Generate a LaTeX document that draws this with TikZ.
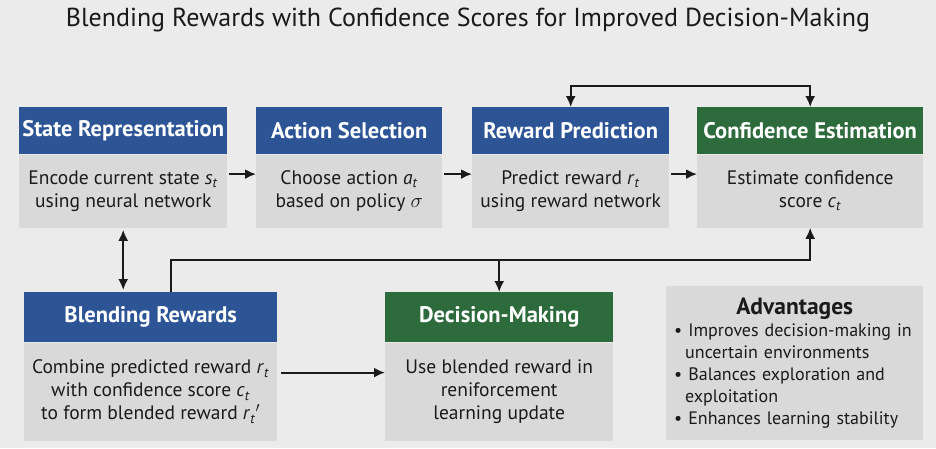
\documentclass[tikz,border=0pt]{standalone}
\usepackage{fontspec}
\setmainfont{PT Sans}
\usetikzlibrary{arrows.meta,positioning}
\definecolor{bgGray}{HTML}{EBEBEB}
\definecolor{headBlue}{HTML}{2D5596}
\definecolor{headGreen}{HTML}{2E6B3C}
\definecolor{bodyGray}{HTML}{D9D9D9}
\definecolor{inkDark}{HTML}{1A1A1A}
\newcommand{\symsub}[2]{\textit{#1}\textsubscript{\textit{#2}}}
\newcommand{\cont}{\hspace*{11pt}}

\begin{document}
\begin{tikzpicture}[x=1pt,y=-1pt,
  head/.style={fill=headBlue,text=white,font=\fontsize{22.5}{26}\selectfont\bfseries,
    minimum height=47pt,inner sep=0pt,anchor=north west},
  greenhead/.style={head,fill=headGreen},
  body/.style={fill=bodyGray,text=inkDark,font=\fontsize{19.5}{23}\selectfont,
    align=center,inner sep=0pt},
  link/.style={-{Latex[length=11pt,width=10pt]},line width=2pt,draw=inkDark},
  twoway/.style={link,{Latex[length=11pt,width=10pt]}-{Latex[length=11pt,width=10pt]}}]

  \fill[bgGray] (0,0) rectangle (936,448);
  \useasboundingbox (0,0) rectangle (936,448);

  \node at (468,20) [text=inkDark,font=\fontsize{26}{30}\selectfont] (title)
    {Blending Rewards with Confidence Scores for Improved Decision-Making};

  % top row
  \node at (19,107) [head,minimum width=208pt] (stateH) {State Representation};
  \node [body,below=0pt of stateH,minimum width=208pt,minimum height=73pt] (state)
    {Encode current state \symsub{s}{t}\\using neural network};

  \node at (256,107) [head,minimum width=186pt] (actionH) {Action Selection};
  \node [body,below=0pt of actionH,minimum width=186pt,minimum height=73pt] (action)
    {Choose action \symsub{a}{t}\\based on policy $\sigma$};

  \node at (472,107) [head,minimum width=197pt] (rewardH) {Reward Prediction};
  \node [body,below=0pt of rewardH,minimum width=197pt,minimum height=73pt] (reward)
    {Predict reward \symsub{r}{t}\\using reward network};

  \node at (697,107) [greenhead,minimum width=226pt] (confH) {Confidence Estimation};
  \node [body,below=0pt of confH,minimum width=226pt,minimum height=73pt] (conf)
    {Estimate confidence\\score \symsub{c}{t}};

  % bottom row
  \node at (24,292) [head,minimum width=253pt,minimum height=50pt] (blendH) {Blending Rewards};
  \node [body,below=0pt of blendH,minimum width=253pt,minimum height=98pt] (blend)
    {Combine predicted reward \symsub{r}{t}\\with confidence score \symsub{c}{t}\\to form blended reward \symsub{r}{t}$'$};

  \node at (385,292) [greenhead,minimum width=228pt,minimum height=50pt] (decH) {Decision-Making};
  \node [body,below=0pt of decH,minimum width=228pt,minimum height=98pt] (dec)
    {Use blended reward in\\reniforcement\\learning update};

  \node at (666,286) [anchor=north west,fill=bodyGray,text=inkDark,minimum width=257pt,
    minimum height=154pt,text width=241pt,inner xsep=8pt,inner ysep=4pt,align=left,
    font=\fontsize{18}{22}\selectfont] (adv)
    {{\centering\fontsize{23.5}{30}\selectfont\bfseries Advantages\par}
     \textbullet~Improves decision-making in\\\cont uncertain environments\\
     \textbullet~Balances exploration and\\\cont exploitation\\
     \textbullet~Enhances learning stability};

  % connectors
  \draw[link,shorten <=2pt] ([yshift=17pt]state.east) -- ([yshift=17pt]action.west);
  \draw[link,shorten <=2pt] ([yshift=17pt]action.east) -- ([yshift=17pt]reward.west);
  \draw[link,shorten <=2pt] ([yshift=17pt]reward.east) -- ([yshift=17pt]conf.west);
  \draw[twoway] (rewardH.north) -- ++(0,-21) -| (confH.north);
  \draw[twoway,shorten <=2pt,shorten >=2pt] (state.south) -- (state.south |- blendH.north);
  \draw[link] ([xshift=20pt]blendH.north) -- ++(0,-32) coordinate (bus) -| (conf.south);
  \draw[link] (bus -| decH.north) -- (decH.north);
  \draw[link,shorten <=4pt] ([yshift=19pt]blend.east) -- ([yshift=19pt]dec.west);
\end{tikzpicture}
\end{document}
